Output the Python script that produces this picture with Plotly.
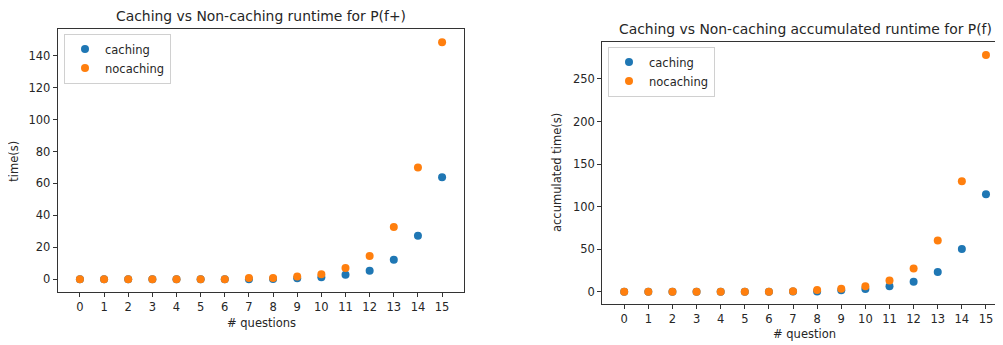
import plotly.graph_objects as go

questions = list(range(16))
tick_labels = [str(q) for q in questions]

# runtime per question (s)
caching_runtime = [0, 0, 0, 0, 0, 0, 0, 0.1, 0.2, 0.6, 1.3, 2.9, 5.4, 12.3, 27.3, 63.9]
nocaching_runtime = [0, 0, 0, 0, 0, 0, 0, 0.8, 0.8, 1.7, 3.1, 7.1, 14.6, 32.8, 70.0, 148.4]

# accumulated runtime (s)
caching_accum = [0, 0, 0, 0, 0, 0, 0, 0.1, 0.3, 1.6, 3.1, 6.3, 11.8, 23.1, 50.2, 114.4]
nocaching_accum = [0, 0, 0, 0, 0, 0, 0, 0.5, 2.0, 3.5, 6.3, 13.3, 27.4, 60.3, 129.7, 278.2]

BLUE = "#1f77b4"
ORANGE = "#ff7f0e"
FONT = "DejaVu Sans"
TXT = "#262626"
OFF = 8  # page body margin
W, H = 1003 - OFF, 345 - OFF

def px(x):
    return (x - OFF) / W

def py(y):
    return 1 - (y - OFF) / H

fig = go.Figure()

mk = dict(size=8, line=dict(width=0))

fig.add_trace(go.Scatter(x=questions, y=caching_runtime, mode="markers", name="caching",
                         marker=dict(color=BLUE, **mk), xaxis="x", yaxis="y", legend="legend"))
fig.add_trace(go.Scatter(x=questions, y=nocaching_runtime, mode="markers", name="nocaching",
                         marker=dict(color=ORANGE, **mk), xaxis="x", yaxis="y", legend="legend"))
fig.add_trace(go.Scatter(x=questions, y=caching_accum, mode="markers", name="caching",
                         marker=dict(color=BLUE, **mk), xaxis="x2", yaxis="y2", legend="legend2"))
fig.add_trace(go.Scatter(x=questions, y=nocaching_accum, mode="markers", name="nocaching",
                         marker=dict(color=ORANGE, **mk), xaxis="x2", yaxis="y2", legend="legend2"))

axis_common = dict(showgrid=False, zeroline=False, showline=True, linecolor="#333333", linewidth=1,
                   ticks="outside", ticklen=4, tickwidth=1, tickcolor="#333333",
                   tickfont=dict(family=FONT, size=11.5, color=TXT))

legend_common = dict(bgcolor="white", bordercolor="#d0d0d0", borderwidth=1,
                     font=dict(family=FONT, size=11.5, color=TXT),
                     xanchor="left", yanchor="top", itemsizing="trace", tracegroupgap=0)

fig.update_layout(
    width=W, height=H,
    margin=dict(l=0, r=0, t=0, b=0),
    paper_bgcolor="white", plot_bgcolor="white",
    showlegend=True,
    xaxis=dict(domain=[px(57.7), px(464.3)], range=[-0.92, 15.92], anchor="y",
               tickmode="array", tickvals=questions, ticktext=tick_labels, mirror=True, **axis_common),
    yaxis=dict(domain=[py(292.3), py(29)], range=[-8.14, 156.7], anchor="x",
               tickmode="array", tickvals=[0, 20, 40, 60, 80, 100, 120, 140], mirror=True, **axis_common),
    xaxis2=dict(domain=[px(602.2), 1.0], range=[-0.912, 15.706], anchor="y2",
                tickmode="array", tickvals=questions, ticktext=tick_labels, mirror=True, **axis_common),
    yaxis2=dict(domain=[py(304), py(42.3)], range=[-14.46, 293.1], anchor="x2",
                tickmode="array", tickvals=[0, 50, 100, 150, 200, 250], mirror=False, **axis_common),
    legend=dict(x=px(64), y=py(33.5), **legend_common),
    legend2=dict(x=px(608), y=py(46.5), **legend_common),
)

annotations = [
    dict(text="Caching vs Non-caching runtime for P(f+)", x=px(261), y=py(15.7), size=13.9),
    dict(text="Caching vs Non-caching accumulated runtime for P(f)", x=px(805), y=py(29.3), size=13.9),
    dict(text="# questions", x=px(261), y=py(322.7), size=11.5),
    dict(text="# question", x=px(804), y=py(334), size=11.5),
]
for a in annotations:
    fig.add_annotation(text=a["text"], x=a["x"], y=a["y"], xref="paper", yref="paper",
                       xanchor="center", yanchor="middle", showarrow=False,
                       font=dict(family=FONT, size=a["size"], color=TXT))

for text, x, y in [("time(s)", 14, 161.7), ("accumulated time(s)", 557, 173)]:
    fig.add_annotation(text=text, x=px(x), y=py(y), xref="paper", yref="paper",
                       xanchor="center", yanchor="middle", showarrow=False, textangle=-90,
                       font=dict(family=FONT, size=11.5, color=TXT))

fig.write_html("out.html")
